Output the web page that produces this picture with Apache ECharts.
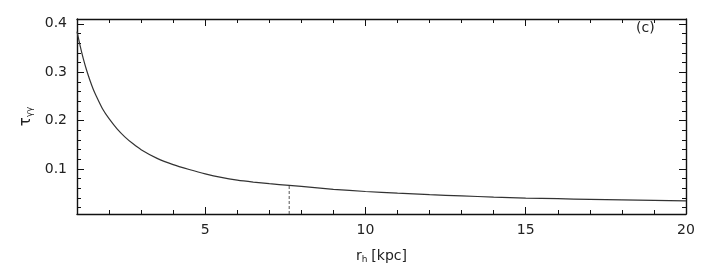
<!DOCTYPE html>
<html>
<head>
<meta charset="utf-8">
<script src="https://cdn.jsdelivr.net/npm/echarts@6/dist/echarts.min.js"></script>
<style>
html, body { margin: 0; padding: 0; background: #fff; }
#chart { width: 713px; height: 270px; }
</style>
</head>
<body>
<div id="chart"></div>
<script>
// r_h [kpc] and tau values
var radius = [1, 1.1, 1.2, 1.3, 1.4, 1.5, 1.6, 1.8, 2, 2.25, 2.5, 2.75, 3, 3.5, 4, 4.5, 5, 5.5, 6, 6.5, 7, 7.62, 8, 9, 10, 11, 12, 13, 14, 15, 16, 17, 18, 19, 20];
var tau = [0.384, 0.354, 0.327, 0.304, 0.284, 0.266, 0.251, 0.224, 0.204, 0.183, 0.166, 0.152, 0.140, 0.122, 0.109, 0.099, 0.090, 0.0826, 0.0770, 0.0730, 0.0697, 0.0660, 0.0639, 0.0580, 0.0535, 0.0500, 0.0470, 0.0443, 0.0420, 0.0400, 0.0386, 0.0372, 0.0360, 0.0350, 0.0340];

// dashed marker
var cutX = [7.62, 7.62];
var cutY = [0.007, 0.0660];

var xMajor = [5, 10, 15, 20];
var xMinor = [2, 3, 4, 6, 7, 8, 9, 11, 12, 13, 14, 16, 17, 18, 19];
var yMajor = [0.1, 0.2, 0.3, 0.4];
var yMinor = [0.02, 0.04, 0.06, 0.08, 0.12, 0.14, 0.16, 0.18, 0.22, 0.24, 0.26, 0.28, 0.32, 0.34, 0.36, 0.38];

var xMin = 1, xMax = 20;
var yMin = 0.007, yMax = 0.41;

var font = 'DejaVu Sans';
var ink = '#111';

function xAx(pos, ticks, len, main) {
  return {
    type: 'value', position: pos, min: xMin, max: xMax,
    axisLine: { show: main, lineStyle: { color: ink, width: 1.4 } },
    axisTick: { show: true, inside: true, length: len, customValues: ticks, lineStyle: { color: ink, width: 1 } },
    axisLabel: {
      show: main && pos === 'bottom', customValues: xMajor, margin: 9,
      color: '#222', fontFamily: font, fontSize: 14
    },
    splitLine: { show: false }
  };
}

function yAx(pos, ticks, len, main) {
  return {
    type: 'value', position: pos, min: yMin, max: yMax,
    axisLine: { show: main, lineStyle: { color: ink, width: 1.4 } },
    axisTick: { show: true, inside: true, length: len, customValues: ticks, lineStyle: { color: ink, width: 1 } },
    axisLabel: {
      show: main && pos === 'left', customValues: yMajor, margin: 10,
      color: '#222', fontFamily: font, fontSize: 14,
      formatter: function (v) { return v.toFixed(1); }
    },
    splitLine: { show: false }
  };
}

var xAxes = [
  xAx('bottom', xMajor, 7, true),
  xAx('bottom', xMinor, 4, false),
  xAx('top', xMajor, 7, true),
  xAx('top', xMinor, 4, false)
];
xAxes[0].name = '{r|r}{s|h} {r|[kpc]}';
xAxes[0].nameLocation = 'middle';
xAxes[0].nameGap = 35;
xAxes[0].nameTextStyle = {
  color: '#222', fontFamily: font,
  rich: {
    r: { fontSize: 14, fontFamily: font, color: '#222' },
    s: { fontSize: 9, fontFamily: font, color: '#222', padding: [6, 0, 0, 0] }
  }
};

var yAxes = [
  yAx('left', yMajor, 7, true),
  yAx('left', yMinor, 4, false),
  yAx('right', yMajor, 7, true),
  yAx('right', yMinor, 4, false)
];
yAxes[0].name = '{r|τ}{s|γγ}';
yAxes[0].nameLocation = 'middle';
yAxes[0].nameRotate = 90;
yAxes[0].nameGap = 38;
yAxes[0].nameTextStyle = {
  color: '#222', fontFamily: font,
  rich: {
    r: { fontSize: 15, fontFamily: font, color: '#222' },
    s: { fontSize: 9, fontFamily: font, color: '#222', padding: [6, 0, 0, 0] }
  }
};

var chart = echarts.init(document.getElementById('chart'));
var option = {
  animation: false,
  backgroundColor: '#fff',
  grid: { left: 77, right: 27, top: 19, bottom: 56 },
  xAxis: xAxes,
  yAxis: yAxes,
  graphic: [
    {
      type: 'text', left: 636, top: 21,
      style: { text: '(c)', font: '14px "DejaVu Sans"', fill: '#222' }
    }
  ],
  series: [
    {
      name: 'tau',
      type: 'line',
      smooth: 0.2,
      showSymbol: false,
      lineStyle: { color: '#333', width: 1.2 },
      data: radius.map(function (r, i) { return [r, tau[i]]; })
    },
    {
      name: 'cut',
      type: 'line',
      showSymbol: false,
      lineStyle: { color: '#555', width: 1, type: [3, 2] },
      data: cutX.map(function (x, i) { return [x, cutY[i]]; })
    }
  ]
};
chart.setOption(option);
</script>
</body>
</html>
